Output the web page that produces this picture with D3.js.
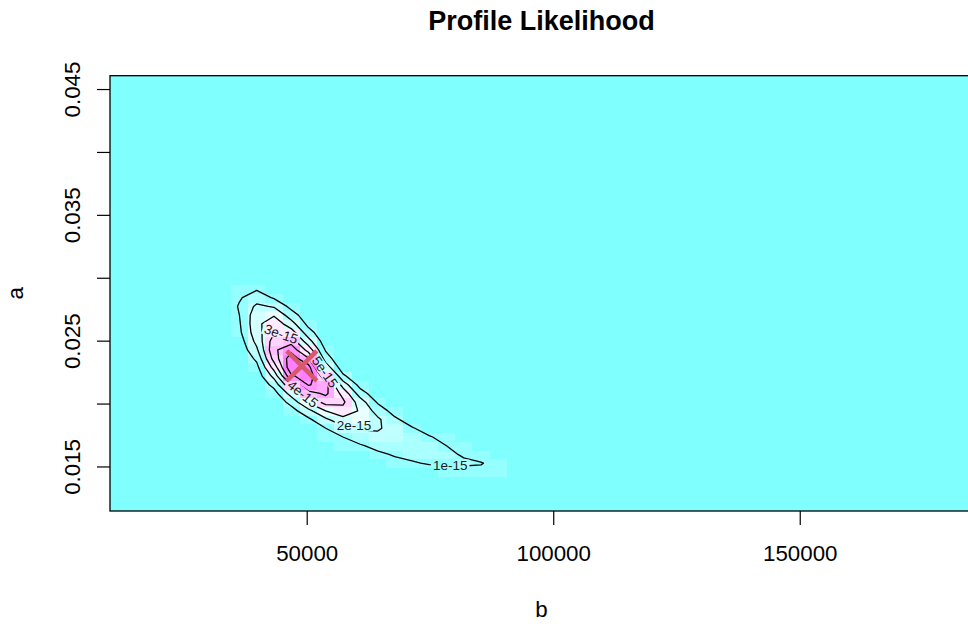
<!DOCTYPE html>
<html><head><meta charset="utf-8">
<script src="https://cdn.jsdelivr.net/npm/d3@7"></script>
<style>
  body { margin: 0; background: #fff; }
  svg { display: block; font-family: "Liberation Sans", Arial, sans-serif; }
</style>
</head><body>
<svg id="chart" width="968" height="624"></svg>
<script>
// ---- data ----
const titleText = 'Profile Likelihood';
const bRange = [10000, 185000];
const aRange = [0.0115, 0.0461];
const bGrid = [29250, 32750, 36250, 39750, 43250, 46750, 50250, 53750, 57250, 60750,
               64250, 67750, 71250, 74750, 78250, 81750, 85250, 88750, 92250, 95750];
const aGrid = [0.013922, 0.014614, 0.015306, 0.015998, 0.01669, 0.017382, 0.018074, 0.018766,
               0.019458, 0.02015, 0.020842, 0.021534, 0.022226, 0.022918, 0.02361, 0.024302,
               0.024994, 0.025686, 0.026378, 0.02707, 0.027762, 0.028454, 0.029146, 0.029838];
// likelihood in units of 1e-15, one row per aGrid value (low a first), one column per bGrid value
const likelihood = [
  [0,0,0,0,0,0,0,0,0,0,0,0,0.1,0.1,0.2,0.2,0.3,0.3,0.2,0.2],
  [0,0,0,0,0,0,0,0,0,0.1,0.1,0.2,0.4,0.5,0.7,0.7,0.8,0.7,0.5,0.3],
  [0,0,0,0,0,0,0,0.1,0.1,0.3,0.4,0.7,0.9,1.1,1.1,1.15,1.05,0.7,0.4,0.3],
  [0,0,0,0,0,0,0.1,0.2,0.3,0.5,0.8,1.1,1.3,1.3,1.2,0.9,0.6,0.4,0.2,0.1],
  [0,0,0,0,0,0.1,0.1,0.3,0.6,0.9,1.3,1.5,1.5,1.3,1.0,0.7,0.4,0.2,0.1,0],
  [0,0,0,0,0,0.1,0.3,0.6,1.0,1.5,1.8,1.8,1.5,1.1,0.6,0.3,0.1,0,0,0],
  [0,0,0,0,0.1,0.2,0.5,1.0,1.7,2.1,2.1,1.7,1.1,0.5,0.2,0.1,0,0,0,0],
  [0,0,0,0,0.1,0.3,0.8,1.8,2.7,2.9,2.2,1.2,0.5,0.1,0,0,0,0,0,0],
  [0,0,0,0,0.2,0.6,1.7,3.0,3.6,2.9,1.6,0.6,0.1,0,0,0,0,0,0,0],
  [0,0,0,0,0.3,1.3,3.1,4.4,4.2,2.5,0.9,0.2,0,0,0,0,0,0,0,0],
  [0,0,0,0.1,0.6,2.4,4.6,5.2,3.7,1.5,0.3,0,0,0,0,0,0,0,0,0],
  [0,0,0,0.2,1.3,4.0,6.1,5.4,2.6,0.6,0.1,0,0,0,0,0,0,0,0,0],
  [0,0,0,0.4,2.3,5.8,6.7,4.3,1.2,0.1,0,0,0,0,0,0,0,0,0,0],
  [0,0,0.1,0.7,3.4,6.8,6.4,2.6,0.4,0,0,0,0,0,0,0,0,0,0,0],
  [0,0,0.1,1.2,4.4,6.6,5.1,1.5,0.1,0,0,0,0,0,0,0,0,0,0,0],
  [0,0,0.3,1.8,4.8,5.7,3.6,0.9,0.1,0,0,0,0,0,0,0,0,0,0,0],
  [0,0.1,0.5,2.3,4.5,4.6,2.4,0.4,0,0,0,0,0,0,0,0,0,0,0,0],
  [0,0.1,0.8,2.6,3.9,3.5,1.4,0.2,0,0,0,0,0,0,0,0,0,0,0,0],
  [0,0.1,0.9,2.7,3.7,2.4,0.7,0.1,0,0,0,0,0,0,0,0,0,0,0,0],
  [0,0.2,1.0,2.6,2.9,1.5,0.3,0,0,0,0,0,0,0,0,0,0,0,0,0],
  [0,0.2,1.1,2.2,1.9,0.7,0.1,0,0,0,0,0,0,0,0,0,0,0,0,0],
  [0,0.2,0.9,1.5,0.9,0.2,0,0,0,0,0,0,0,0,0,0,0,0,0,0],
  [0,0.1,0.7,0.9,0.3,0,0,0,0,0,0,0,0,0,0,0,0,0,0,0],
  [0,0,0.2,0.2,0.1,0,0,0,0,0,0,0,0,0,0,0,0,0,0,0]
];
const levels = [1, 2, 3, 4, 5, 6];
const labelLevels = [1, 2, 3, 4, 5];
const labelB = [79000, 59500, 44700, 49100, 53600];
const labelA = [0.01512, 0.01834, 0.02557, 0.0208, 0.02255];
const labelAngle = [0, 0, 19, 39, 55];
const bTicks = [50000, 100000, 150000];
const aTicks = [0.015, 0.02, 0.025, 0.03, 0.035, 0.04, 0.045];
const aTickLabels = ['0.015', '', '0.025', '', '0.035', '', '0.045'];
const mleB = 48900;
const mleA = 0.02303;
// cm.colors(12)
const cmColors = ['#80FFFF', '#95FFFF', '#AAFFFF', '#BFFFFF', '#D4FFFF', '#EAFFFF',
                  '#FFEAFF', '#FFD4FF', '#FFBFFF', '#FFAAFF', '#FF95FF', '#FF80FF'];

// ---- layout ----
const plotLeft = 110, plotRight = 972.8, plotTop = 75.7, plotBottom = 511;
const svg = d3.select('#chart');
const defs = svg.append('defs');

const x = d3.scaleLinear().domain(bRange).range([plotLeft, plotRight]);
const y = d3.scaleLinear().domain(aRange).range([plotBottom, plotTop]);
const color = d3.scaleQuantize()
  .domain([0, d3.max(likelihood.flat())])
  .range(cmColors);

defs.append('clipPath').attr('id', 'plotClip')
  .append('rect')
  .attr('x', plotLeft).attr('y', plotTop)
  .attr('width', plotRight - plotLeft).attr('height', plotBottom - plotTop);

const plot = svg.append('g').attr('clip-path', 'url(#plotClip)');

// image background (lowest colour band covers the whole parameter range)
plot.append('rect')
  .attr('x', x(bRange[0])).attr('y', y(aRange[1]))
  .attr('width', x(bRange[1]) - x(bRange[0]))
  .attr('height', y(aRange[0]) - y(aRange[1]))
  .attr('fill', cmColors[0]);

const bStep = bGrid[1] - bGrid[0];
const aStep = aGrid[1] - aGrid[0];

const cells = [];
likelihood.forEach((row, j) => row.forEach((v, i) => cells.push({b: bGrid[i], a: aGrid[j], v})));

plot.append('g').attr('shape-rendering', 'crispEdges')
  .selectAll('rect')
  .data(cells)
  .join('rect')
  .attr('x', d => x(d.b - bStep / 2))
  .attr('y', d => y(d.a + aStep / 2))
  .attr('width', d => x(d.b + bStep / 2) - x(d.b - bStep / 2) + 0.5)
  .attr('height', d => y(d.a - aStep / 2) - y(d.a + aStep / 2) + 0.5)
  .attr('fill', d => color(d.v));

// contour lines
const contours = d3.contours()
  .size([bGrid.length, aGrid.length])
  .thresholds(levels)(likelihood.flat());

const toPlot = d3.geoTransform({
  point(gx, gy) {
    this.stream.point(x(bGrid[0] - bStep / 2 + gx * bStep), y(aGrid[0] - aStep / 2 + gy * aStep));
  }
});

const lineGroup = plot.append('g').attr('mask', 'url(#labelGaps)');

// labels cut gaps out of the lines
const mask = defs.append('mask').attr('id', 'labelGaps')
  .attr('maskUnits', 'userSpaceOnUse')
  .attr('x', 0).attr('y', 0).attr('width', 968).attr('height', 624);
mask.append('rect').attr('width', 968).attr('height', 624).attr('fill', '#fff');

const labels = plot.append('g')
  .attr('font-size', 13.5)
  .attr('fill', '#1a1a1a')
  .attr('text-anchor', 'middle');

labelLevels.forEach((lv, k) => {
  const pos = `translate(${x(labelB[k])},${y(labelA[k])}) rotate(${labelAngle[k]})`;
  const t = labels.append('text')
    .attr('transform', pos)
    .attr('dy', '0.35em')
    .text(lv + 'e-15');
  const w = t.node().getComputedTextLength() + 4;
  mask.append('rect')
    .attr('transform', pos)
    .attr('x', -w / 2).attr('y', -6)
    .attr('width', w).attr('height', 12)
    .attr('fill', '#000');
});

lineGroup.selectAll('path')
  .data(contours)
  .join('path')
  .attr('d', d3.geoPath(toPlot))
  .attr('fill', 'none')
  .attr('stroke', '#000')
  .attr('stroke-width', 1.3)
  .attr('stroke-linejoin', 'round');

// maximum likelihood estimate
const mx = x(mleB), my = y(mleA), arm = 15;
plot.append('path')
  .attr('d', `M${mx - arm},${my - arm}L${mx + arm},${my + arm}M${mx - arm},${my + arm}L${mx + arm},${my - arm}`)
  .attr('stroke', '#d8586c')
  .attr('stroke-width', 4.5)
  .attr('fill', 'none');

// ---- axes ----
svg.append('rect')
  .attr('x', plotLeft).attr('y', plotTop)
  .attr('width', plotRight - plotLeft).attr('height', plotBottom - plotTop)
  .attr('fill', 'none').attr('stroke', '#000').attr('stroke-width', 1.3);

const xAxis = svg.append('g');
xAxis.selectAll('line').data(bTicks).join('line')
  .attr('x1', d => x(d)).attr('x2', d => x(d))
  .attr('y1', plotBottom).attr('y2', plotBottom + 14)
  .attr('stroke', '#000').attr('stroke-width', 1.2);
xAxis.selectAll('text').data(bTicks).join('text')
  .attr('x', d => x(d)).attr('y', 561)
  .attr('text-anchor', 'middle').attr('font-size', 22.3)
  .text(d => d);

const yAxis = svg.append('g');
yAxis.selectAll('line').data(aTicks).join('line')
  .attr('x1', plotLeft - 13).attr('x2', plotLeft)
  .attr('y1', d => y(d)).attr('y2', d => y(d))
  .attr('stroke', '#000').attr('stroke-width', 1.2);
yAxis.selectAll('text').data(aTicks).join('text')
  .attr('transform', d => `translate(80,${y(d)}) rotate(-90)`)
  .attr('text-anchor', 'middle').attr('font-size', 22.3)
  .text((d, i) => aTickLabels[i]);

svg.append('text')
  .attr('x', (plotLeft + plotRight) / 2).attr('y', 617)
  .attr('text-anchor', 'middle').attr('font-size', 22.3)
  .text('b');
svg.append('text')
  .attr('transform', `translate(23,${(plotTop + plotBottom) / 2}) rotate(-90)`)
  .attr('text-anchor', 'middle').attr('font-size', 22.3)
  .text('a');

svg.append('text')
  .attr('x', (plotLeft + plotRight) / 2).attr('y', 30)
  .attr('text-anchor', 'middle').attr('font-size', 27).attr('font-weight', 'bold')
  .text(titleText);
</script>
</body></html>
